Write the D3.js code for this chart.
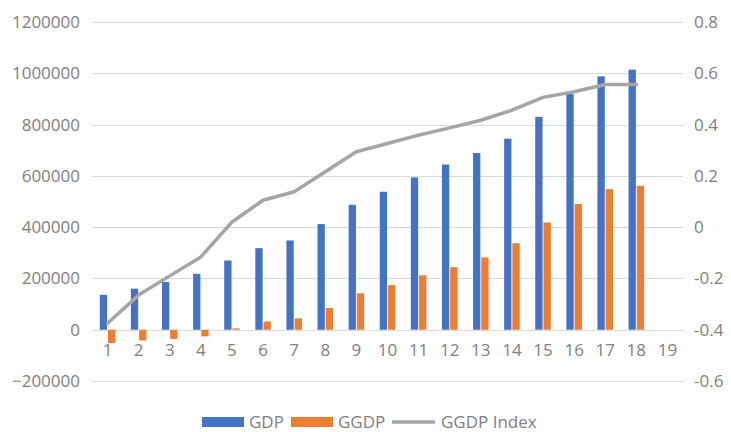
<!DOCTYPE html>
<html>
<head>
<meta charset="utf-8">
<script src="https://cdn.jsdelivr.net/npm/d3@7"></script>
<style>
  html, body { margin: 0; padding: 0; background: #fff; }
  svg { display: block; }
  text { font-family: "Open Sans", "Noto Sans", sans-serif; fill: #808080; }
</style>
</head>
<body>
<svg id="chart" width="731" height="432"></svg>
<script>
// Categories along the x axis
const categories = ["1","2","3","4","5","6","7","8","9","10","11","12","13","14","15","16","17","18","19"];
// Series values (category 19 has no data)
const gdp = [136000, 160000, 186000, 218000, 270000, 318000, 348000, 412000, 487000, 538000, 594000, 644000, 689000, 745000, 830000, 920000, 988000, 1014000];
const ggdp = [-52000, -42000, -36000, -26000, 5000, 32000, 44000, 85000, 142000, 174000, 212000, 244000, 282000, 337000, 418000, 490000, 548000, 561000];
const ggdpIndex = [-0.375, -0.265, -0.19, -0.116, 0.02, 0.105, 0.138, 0.216, 0.294, 0.326, 0.359, 0.387, 0.417, 0.456, 0.506, 0.528, 0.556, 0.556];
// Axis ticks
const leftTicks = [-200000, 0, 200000, 400000, 600000, 800000, 1000000, 1200000];
const rightTicks = [-0.6, -0.4, -0.2, 0, 0.2, 0.4, 0.6, 0.8];

const colors = { gdp: "#4472c4", ggdp: "#ed7d31", index: "#a5a5a5", grid: "#d9d9d9" };

const svg = d3.select("#chart");
const plot = { left: 92, right: 683, top: 22, bottom: 381 };

const x = d3.scaleBand().domain(categories).range([plot.left, plot.right]).padding(0);
const yL = d3.scaleLinear().domain([-200000, 1200000]).range([plot.bottom, plot.top]);
const yR = d3.scaleLinear().domain([-0.6, 0.8]).range([plot.bottom, plot.top]);

const step = x.bandwidth();
const barW = step * 0.235;
const gap = step * 0.03;

// Horizontal gridlines
svg.append("g")
  .selectAll("line")
  .data(leftTicks)
  .join("line")
  .attr("x1", plot.left).attr("x2", plot.right)
  .attr("y1", d => Math.round(yL(d)) + 0.5).attr("y2", d => Math.round(yL(d)) + 0.5)
  .attr("stroke", colors.grid).attr("stroke-width", 1.2);

// Left axis labels
const leftAxis = d3.axisLeft(yL).tickValues(leftTicks).tickFormat(d3.format("d")).tickSize(0).tickPadding(12);
const gL = svg.append("g").attr("transform", `translate(${plot.left},0)`).call(leftAxis);
gL.select(".domain").remove();
gL.selectAll("text").style("font-size", "17px").attr("fill", "#808080");

// Right axis labels
const rightAxis = d3.axisRight(yR).tickValues(rightTicks).tickFormat(d => d3.format(".1f")(d).replace("0.0", "0").replace("−", "-")).tickSize(0).tickPadding(11);
const gR = svg.append("g").attr("transform", `translate(${plot.right},0)`).call(rightAxis);
gR.select(".domain").remove();
gR.selectAll("text").style("font-size", "17px").attr("fill", "#808080")
  .text(d => d === 0 ? "0" : String(d));

// Category labels just below the zero line
const gX = svg.append("g").attr("transform", `translate(0,${yL(0)})`)
  .call(d3.axisBottom(x).tickSize(0).tickPadding(14));
gX.select(".domain").remove();
gX.selectAll("text").style("font-size", "17px").attr("fill", "#808080");

// GDP bars
svg.append("g").selectAll("rect")
  .data(gdp)
  .join("rect")
  .attr("x", (d, i) => x(categories[i]) + step / 2 - gap / 2 - barW)
  .attr("width", barW)
  .attr("y", d => yL(Math.max(0, d)))
  .attr("height", d => Math.abs(yL(d) - yL(0)))
  .attr("fill", colors.gdp);

// GGDP bars
svg.append("g").selectAll("rect")
  .data(ggdp)
  .join("rect")
  .attr("x", (d, i) => x(categories[i]) + step / 2 + gap / 2)
  .attr("width", barW)
  .attr("y", d => yL(Math.max(0, d)))
  .attr("height", d => Math.abs(yL(d) - yL(0)))
  .attr("fill", colors.ggdp);

// GGDP Index line on the secondary axis
const line = d3.line()
  .x((d, i) => x(categories[i]) + step / 2)
  .y(d => yR(d));
svg.append("path")
  .datum(ggdpIndex)
  .attr("d", line)
  .attr("fill", "none")
  .attr("stroke", colors.index)
  .attr("stroke-width", 3.5)
  .attr("stroke-linejoin", "round")
  .attr("stroke-linecap", "round");

// Legend
const legend = svg.append("g").attr("transform", "translate(0,422)");
const items = [
  { label: "GDP", type: "rect", color: colors.gdp, x: 202, tx: 249 },
  { label: "GGDP", type: "rect", color: colors.ggdp, x: 291, tx: 338 },
  { label: "GGDP Index", type: "line", color: colors.index, x: 392, tx: 441 }
];
items.forEach(it => {
  if (it.type === "rect") {
    legend.append("rect").attr("x", it.x).attr("y", -5).attr("width", 42).attr("height", 10).attr("fill", it.color);
  } else {
    legend.append("line").attr("x1", it.x).attr("x2", it.x + 43).attr("y1", 0).attr("y2", 0)
      .attr("stroke", it.color).attr("stroke-width", 3.5);
  }
  legend.append("text").attr("x", it.tx).attr("y", 0).attr("dy", "0.35em")
    .style("font-size", "17px").attr("fill", "#808080").text(it.label);
});
</script>
</body>
</html>
